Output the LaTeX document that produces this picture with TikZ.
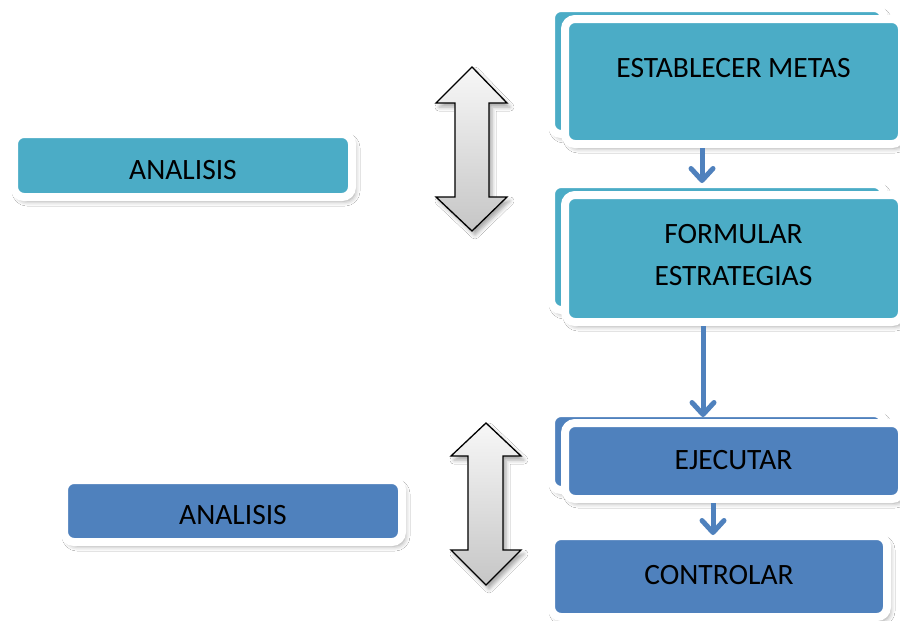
\documentclass[tikz,border=0pt]{standalone}
\usepackage{fontspec}
\setmainfont{Carlito}
\usetikzlibrary{arrows.meta,shadows.blur}
\definecolor{tealbox}{HTML}{4BACC6}
\definecolor{bluebox}{HTML}{4F81BD}
\begin{document}
\begin{tikzpicture}[x=1pt,y=-1pt,
  box/.style={draw=white, line width=8pt, rounded corners=10pt, inner sep=0pt,
    blur shadow={shadow xshift=3pt, shadow yshift=-4pt, shadow blur radius=5pt, shadow opacity=40}},
  tbox/.style={box, fill=tealbox},
  bbox/.style={box, fill=bluebox},
  lbl/.style={font=\fontsize{29.5}{42}\selectfont, inner sep=0pt, align=center},
  conn/.style={draw=bluebox, line width=5pt, -{Straight Barb[length=12pt,width=22pt,round]}},
  dbl/.style={draw=black, line width=1.3pt, line join=miter, top color=gray!6, bottom color=gray!45,
    blur shadow={shadow xshift=3pt, shadow yshift=-4pt, shadow blur radius=4pt, shadow opacity=35}}
]
\useasboundingbox (0,0) rectangle (900,621);
\fill[white] (0,0) rectangle (900,621);

% left boxes
\node[tbox, minimum width=338pt, minimum height=63pt] (an1) at (183,165.5) {};
\node[lbl] (an1t) at (183,170) {ANALISIS};
\node[bbox, minimum width=338pt, minimum height=62pt] (an2) at (233,511) {};
\node[lbl] (an2t) at (233,515) {ANALISIS};

% double arrows
\draw[dbl] (472,67) -- (507,103) -- (489,103) -- (489,197) -- (507,197) -- (472,231)
  -- (436,197) -- (455,197) -- (455,103) -- (436,103) -- cycle;
\draw[dbl] (486,423) -- (521,456) -- (503,456) -- (503,550) -- (521,550) -- (486,585)
  -- (451,550) -- (468,550) -- (468,456) -- (451,456) -- cycle;

% right boxes
\node[tbox, minimum width=333pt, minimum height=126pt] (estB) at (717.5,71) {};
\node[tbox, minimum width=337pt, minimum height=125pt] (estF) at (733.5,81.5) {};
\node[lbl] (estT) at (733.5,68) {ESTABLECER METAS};

\node[tbox, minimum width=333pt, minimum height=126pt] (forB) at (717.5,247) {};
\node[tbox, minimum width=337pt, minimum height=127pt] (forF) at (733.5,258.5) {};
\node[lbl] (forT) at (733.5,255) {FORMULAR\\ESTRATEGIAS};

\node[bbox, minimum width=333pt, minimum height=77pt] (ejeB) at (717.5,451.5) {};
\node[bbox, minimum width=337pt, minimum height=76pt] (ejeF) at (733.5,461) {};
\node[lbl] (ejeT) at (733.5,460) {EJECUTAR};

\node[bbox, minimum width=336pt, minimum height=81pt] (ctl) at (719,576.5) {};
\node[lbl] (ctlT) at (719,575) {CONTROLAR};

% connectors
\coordinate (x1) at (702,0);
\coordinate (x2) at (703,0);
\coordinate (x3) at (713,0);
\draw[conn, shorten >=-3pt] (estF.south -| x1) -- (forB.north -| x1);
\draw[conn, shorten >=-8pt] (forF.south -| x2) -- (ejeB.north -| x2);
\draw[conn, shorten >=-3pt] (ejeF.south -| x3) -- (ctl.north -| x3);
\end{tikzpicture}
\end{document}
